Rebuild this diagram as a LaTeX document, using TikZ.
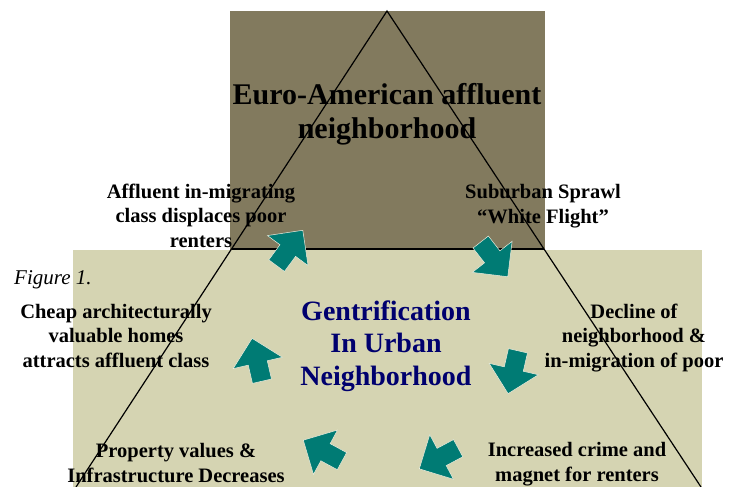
\documentclass[tikz,border=0pt]{standalone}
\usepackage{fontspec}
\setmainfont{Liberation Serif}
\usetikzlibrary{shapes.arrows,calc}

\definecolor{dunbrown}{RGB}{130,122,94}
\definecolor{palesage}{RGB}{213,212,178}
\definecolor{deepteal}{RGB}{0,123,116}
\definecolor{inknavy}{RGB}{0,0,110}

\begin{document}
\begin{tikzpicture}[
  x=1pt, y=-1pt,
  lbl/.style={align=center, anchor=base, inner sep=0pt,
    font=\fontsize{20.5}{24.5}\selectfont\bfseries},
  title/.style={lbl, font=\fontsize{30}{34}\selectfont\bfseries},
  core/.style={lbl, text=inknavy, font=\fontsize{28}{32.5}\selectfont\bfseries},
  cycarrow/.style={single arrow, fill=deepteal, draw=palesage!40!white, line width=0.5pt,
    minimum height=44pt, single arrow head extend=15.5pt,
    inner xsep=0pt, inner ysep=9.5pt, anchor=tip},
]
\useasboundingbox (0,0) rectangle (742,487);

% backgrounds
\fill[dunbrown] (230,11) rectangle (545,250);
\fill[palesage] (73,250) rectangle (702,487);

% triangle
\coordinate (apex) at (387,11);
\coordinate (bl) at (76,487);
\coordinate (br) at (701,487);
\coordinate (ml) at ($(apex)!0.5!(bl)$);
\coordinate (mr) at ($(apex)!0.5!(br)$);
\draw[line width=1.2pt] (bl) -- (apex) -- (br);
\draw[line width=1.2pt] (ml) -- (mr);

% texts (base = last line)
\node[title] (euro) at (387,139) {Euro-American affluent\\neighborhood};
\node[core] (gentri) at (386,385) {Gentrification\\In Urban\\Neighborhood};
\node[anchor=base west, inner sep=0pt, font=\fontsize{21}{25}\selectfont\itshape] (fig) at (14,284) {Figure 1.};

\node[lbl] (displace) at (201,247) {Affluent in-migrating\\class displaces poor\\renters};
\node[lbl] (sprawl) at (543,223) {Suburban Sprawl\\“White Flight”};
\node[lbl] (decline) at (634,367) {Decline of\\neighborhood \&\\in-migration of poor};
\node[lbl] (crime) at (577,481) {Increased crime and\\magnet for renters};
\node[lbl] (values) at (176,482) {Property values \&\\Infrastructure Decreases};
\node[lbl] (cheap) at (116,367) {Cheap architecturally\\valuable homes\\attracts affluent class};

% cycle arrows
\node[cycarrow, rotate=53.5] (a1) at (303,230) {};
\node[cycarrow, rotate=-52] (a2) at (508,277) {};
\node[cycarrow, rotate=-103] (a3) at (508,394) {};
\node[cycarrow, rotate=-152] (a4) at (419,469) {};
\node[cycarrow, rotate=151.5] (a5) at (303,440) {};
\node[cycarrow, rotate=103] (a6) at (252,338) {};
\end{tikzpicture}
\end{document}
